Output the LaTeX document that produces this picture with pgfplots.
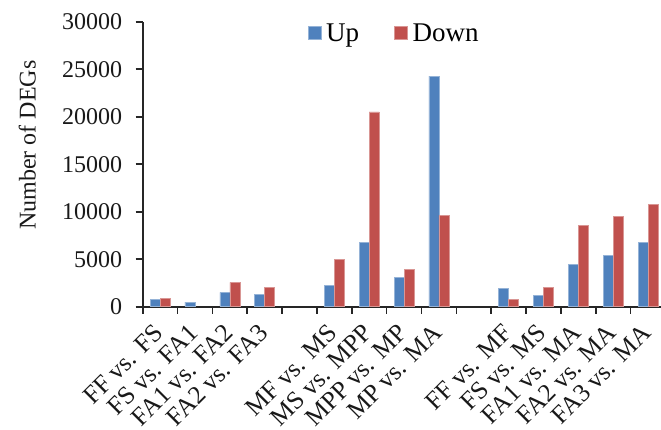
\documentclass[border=0pt]{standalone}
\usepackage{fontspec}
\setmainfont{Liberation Serif}
\usepackage{pgfplots}
\pgfplotsset{compat=1.18}
\definecolor{upc}{HTML}{4F81BD}
\definecolor{downc}{HTML}{C0504D}
\definecolor{axc}{HTML}{262626}
\begin{document}
\begin{tikzpicture}
\begin{axis}[
  at={(142.7pt,122.3pt)}, anchor=south west,
  scale only axis, width=522.75pt, height=285pt,
  xmin=0.5, xmax=15.5, ymin=0, ymax=30000,
  axis x line=bottom, axis y line=left,
  axis line style={-, line width=1.6pt, color=axc},
  ybar, bar width=10pt,
  tick align=outside, major tick length=7pt,
  ytick={0,5000,...,30000},
  /pgf/number format/1000 sep={},
  /pgf/number format/assume math mode=true,
  scaled y ticks=false,
  ytick style={line width=1.6pt, color=axc},
  yticklabel style={font=\fontsize{24}{28}\selectfont, color=black!90, xshift=-10pt},
  xtick={0.5,1.5,...,15.5}, xticklabels={},
  xtick style={line width=1.6pt, color=axc},
  extra x ticks={1,...,15},
  extra x tick labels={FF vs. FS, FS vs. FA1, FA1 vs. FA2, FA2 vs. FA3, , MF vs. MS, MS vs. MPP, MPP vs. MP, MP vs. MA, , FF vs. MF, FS vs. MS, FA1 vs. MA, FA2 vs. MA, FA3 vs. MA},
  extra x tick style={major tick length=0pt, tick style={draw=none},
    xticklabel style={xshift=5pt, yshift=-28.3pt, rotate=45, anchor=south east, inner sep=0pt,
      font=\fontsize{25.5}{30}\selectfont, color=black!90}},
  ylabel={Number of DEGs},
  ylabel style={at={(axis description cs:-0.221,0.567)}, anchor=center, rotate=0, font=\fontsize{24}{28}\selectfont, color=black!90},
  legend style={at={(axis description cs:0.4810,0.960)}, anchor=center, draw=none, fill=none,
    legend columns=2, font=\fontsize{27}{32}\selectfont,
    /tikz/every even column/.append style={column sep=33pt}},
  legend image code/.code={\fill[#1] (0pt,-6.5pt) rectangle (13pt,6.5pt); \path (16pt,0pt);},
  clip=false,
]
\addplot[fill=upc, draw=upc!60!white, line width=0.5pt, bar shift=-5pt] coordinates {
 (1,770) (2,490) (3,1510) (4,1330) (6,2210) (7,6810) (8,3110) (9,24280)
 (11,1895) (12,1190) (13,4460) (14,5440) (15,6770)};
\addplot[fill=downc, draw=downc!60!white, line width=0.5pt, bar shift=5pt] coordinates {
 (1,875) (3,2560) (4,2035) (6,4990) (7,20500) (8,3950) (9,9620)
 (11,770) (12,2035) (13,8600) (14,9510) (15,10770)};
\legend{Up, Down}
\end{axis}
\pgfresetboundingbox
\path[use as bounding box] (0,0) rectangle (661pt,429pt);
\end{tikzpicture}
\end{document}
